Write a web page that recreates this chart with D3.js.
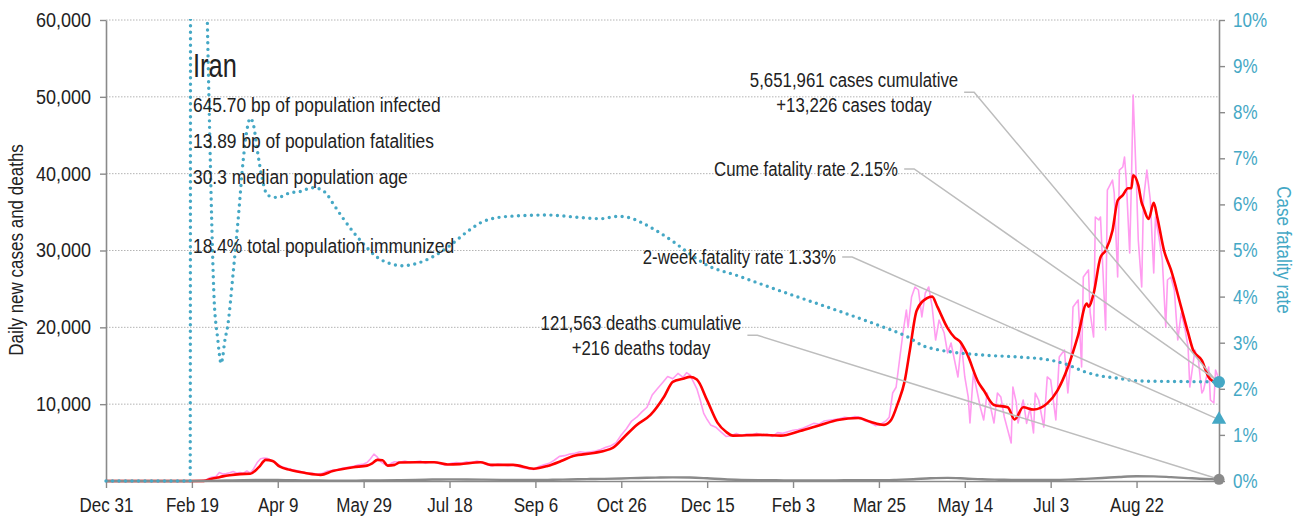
<!DOCTYPE html>
<html>
<head>
<meta charset="utf-8">
<script src="https://cdn.jsdelivr.net/npm/d3@7"></script>
<style>
  body { margin: 0; background: #fff; }
  svg text { font-family: "Liberation Sans", Arial, sans-serif; }
</style>
</head>
<body>
<svg id="chart" width="1297" height="525"></svg>
<script>
// ---- data (days counted from Dec 31, 2019) ----
const START = Date.UTC(2019, 11, 31);
const LAST_DAY = 648;

// 7-day average of new cases
const avgCases = [[0,0],[50,0],[57,20],[61,250],[65,450],[68,600],[72,750],[78,900],[84,950],[89,1800],[93,2750],[97,2600],[101,1900],[107,1450],[116,1050],[125,800],[132,1300],[144,1800],[152,2000],[155,2300],[158,2750],[161,2700],[164,2000],[168,2100],[171,2400],[181,2450],[191,2450],[199,2150],[206,2200],[218,2450],[224,2100],[237,2100],[249,1600],[257,1950],[265,2600],[272,3250],[284,3650],[295,4300],[302,5800],[309,7300],[317,8600],[325,11000],[330,12900],[336,13300],[340,13550],[344,13200],[350,10500],[356,7600],[361,6400],[365,5900],[381,6000],[393,5900],[404,6500],[416,7300],[426,7950],[438,8200],[445,7700],[453,7300],[457,7900],[461,10100],[465,13000],[468,17000],[472,22200],[478,23800],[481,24000],[484,22700],[490,19900],[494,18700],[497,18200],[501,16700],[508,12800],[511,11800],[517,9900],[525,9600],[529,8000],[534,9600],[540,9300],[548,10100],[554,11800],[560,14800],[566,19000],[571,23100],[572,22700],[575,24400],[579,29100],[582,30000],[586,32600],[589,36500],[592,37200],[595,38100],[597,38100],[598,39800],[601,38500],[603,36200],[604,35600],[607,34100],[610,36200],[612,34400],[616,30000],[620,27500],[626,22600],[630,19300],[633,17000],[638,15700],[642,13500],[645,12900],[648,12600]];

// daily new cases
const dailyCases = [[0,0],[50,0],[55,10],[58,120],[60,380],[62,520],[64,590],[66,1100],[68,900],[70,960],[72,1070],[74,1230],[76,1050],[78,1100],[80,1020],[82,1300],[84,1050],[86,1600],[88,2400],[90,2900],[92,3000],[94,2950],[96,2700],[98,2500],[100,2200],[102,1900],[105,1700],[108,1500],[111,1350],[114,1200],[117,1050],[120,1000],[123,900],[126,1000],[129,1300],[132,1400],[135,1500],[138,1700],[141,1800],[144,1900],[147,2100],[150,2200],[152,2400],[154,2900],[156,3500],[158,3100],[160,2500],[162,2200],[164,2000],[166,2300],[168,2500],[171,2450],[174,2600],[177,2400],[180,2500],[183,2600],[186,2300],[189,2500],[192,2400],[195,2200],[198,2100],[201,2300],[204,2400],[207,2300],[210,2500],[213,2400],[216,2600],[219,2450],[222,2100],[225,1950],[228,2200],[231,2100],[234,2000],[237,2100],[240,1900],[243,1700],[246,1600],[249,1500],[252,1900],[255,2100],[258,2300],[261,2700],[264,3200],[267,3300],[270,3500],[273,3600],[276,3800],[279,3700],[282,3800],[285,3900],[288,4100],[291,4400],[294,4600],[297,5000],[300,6000],[303,6800],[306,7800],[309,8300],[312,9000],[315,9600],[318,11200],[321,12000],[324,12800],[327,13600],[330,13300],[333,14000],[336,13500],[338,14100],[340,13800],[342,12900],[344,12000],[346,10500],[348,8800],[350,8000],[352,7300],[355,7000],[358,6400],[361,5800],[364,5900],[367,6200],[370,5900],[373,6100],[376,6000],[379,6200],[382,5900],[385,6100],[388,5800],[391,6300],[394,6200],[397,6400],[400,6600],[403,6700],[406,6900],[409,7200],[412,7500],[415,7400],[418,7800],[421,7900],[424,8000],[427,8100],[430,8300],[433,8200],[436,8400],[439,8300],[442,7800],[445,7600],[448,7200],[451,7400],[454,7800],[456,8300],[458,11450],[460,12200],[462,15750],[464,19260],[466,22260],[467,20000],[469,23950],[471,25250],[473,24860],[475,21350],[477,24470],[479,25250],[481,22650],[483,18350],[485,20950],[488,19260],[490,16660],[492,17960],[494,15750],[496,13540],[498,17960],[500,13540],[502,10930],[503,7550],[505,14050],[507,11840],[509,9630],[511,7940],[513,11450],[515,9630],[517,7550],[519,11450],[521,10930],[523,8330],[525,6640],[527,4950],[528,12230],[530,10200],[531,7550],[534,10540],[536,7500],[538,9500],[540,6250],[541,11450],[543,10540],[546,7030],[548,13540],[550,13150],[553,7940],[555,16140],[558,17050],[560,11450],[562,16660],[563,22650],[566,23560],[568,14840],[569,26550],[572,27460],[573,21870],[575,18740],[576,34360],[578,33970],[579,34360],[582,19650],[583,37870],[586,39170],[587,37480],[589,26550],[590,40470],[592,40870],[593,42170],[594,39170],[596,29670],[597,38780],[598,50240],[600,38260],[601,31370],[603,25250],[604,36570],[606,40470],[608,36570],[610,27070],[611,34360],[613,31760],[615,28760],[617,20040],[618,26160],[620,26550],[622,24860],[624,18350],[626,21870],[628,20040],[630,17440],[631,12230],[634,17050],[636,15750],[638,11450],[639,11840],[642,14840],[643,10540],[645,10150],[646,14450],[648,13226]];

// daily deaths
const dailyDeaths = [[0,0],[50,0],[60,20],[70,60],[80,120],[90,140],[100,130],[110,90],[120,70],[130,50],[140,45],[150,60],[160,80],[170,110],[180,140],[190,190],[200,210],[210,200],[220,180],[230,150],[240,130],[250,130],[260,160],[270,200],[280,250],[290,280],[300,330],[310,400],[320,440],[330,470],[340,450],[350,350],[360,220],[370,150],[380,110],[390,90],[400,80],[410,80],[420,85],[430,90],[440,95],[450,90],[460,140],[470,230],[480,350],[490,410],[500,330],[510,220],[520,170],[530,130],[540,130],[550,140],[560,180],[570,280],[580,400],[590,530],[600,620],[610,600],[620,500],[630,380],[640,270],[648,216]];

// case fatality rate, percent
const fatalityRate = [[0,0],[49,0],[50,100],[53,40],[56,18],[59,10],[60,8.2],[61,6.5],[62,5.0],[63,3.9],[64,3.4],[65,3.1],[66,2.75],[67,2.55],[68,2.7],[69,3.0],[71,3.4],[74,4.5],[77,5.7],[80,7.0],[82,7.6],[84,7.87],[86,7.7],[88,7.2],[91,6.55],[94,6.2],[100,6.15],[107,6.25],[113,6.28],[120,6.36],[125,6.33],[129,6.2],[132,6.03],[138,5.7],[144,5.4],[150,5.14],[158,4.85],[165,4.72],[173,4.67],[181,4.72],[190,4.86],[200,5.1],[210,5.4],[218,5.6],[229,5.72],[245,5.76],[256,5.77],[275,5.72],[288,5.69],[298,5.74],[305,5.71],[311,5.62],[320,5.44],[330,5.2],[339,4.95],[349,4.7],[368,4.45],[389,4.17],[410,3.9],[431,3.63],[451,3.36],[467,3.12],[476,2.93],[484,2.85],[492,2.8],[511,2.73],[531,2.69],[550,2.62],[560,2.52],[569,2.38],[579,2.28],[589,2.23],[601,2.17],[620,2.16],[648,2.15]];

// summary figures
const cumCases = 5651961;
const todayCases = 13226;
const cumDeaths = 121563;
const todayDeaths = 216;
const twoWeekRate = 1.33;
const countryName = "Iran";
const infectedBp = 645.70;
const fatalitiesBp = 13.89;
const medianAge = 30.3;
const immunizedPct = 18.4;

// axis ticks
const caseTicks = [10000, 20000, 30000, 40000, 50000, 60000];
const rateTicks = [0, 1, 2, 3, 4, 5, 6, 7, 8, 9, 10];
const dateTickDays = [0, 50, 100, 150, 200, 250, 300, 350, 400, 450, 500, 550, 600];

// ---- chart ----
const TEAL = "#45a8c5";
const INK = "#222";
const NARROW = 0.85;   // horizontal squeeze for a narrow typeface look
const dayToDate = d => new Date(START + d * 864e5);

// squeeze text horizontally (keeps its anchor)
function condense(sel, k = NARROW) {
  sel.each(function () {
    const len = this.getComputedTextLength();
    this.setAttribute("textLength", (len * k).toFixed(2));
    this.setAttribute("lengthAdjust", "spacingAndGlyphs");
  });
}

const svg = d3.select("#chart");
const plotL = 106, plotR = 1219, plotT = 20, plotB = 481;

const x = d3.scaleUtc().domain([dayToDate(0), dayToDate(LAST_DAY)]).range([plotL, plotR]);
const y = d3.scaleLinear().domain([0, 60000]).range([plotB, plotT]);
const y2 = d3.scaleLinear().domain([0, 10]).range([plotB, plotT]);

svg.append("defs").append("clipPath").attr("id", "plot-clip")
  .append("rect").attr("x", plotL - 2).attr("y", plotT - 1).attr("width", plotR - plotL + 4).attr("height", plotB - plotT + 10);

// dotted grid
svg.append("g").selectAll("line").data(caseTicks).join("line")
  .attr("x1", plotL).attr("x2", plotR)
  .attr("y1", d => y(d)).attr("y2", d => y(d))
  .attr("stroke", "#b4b4b4").attr("stroke-width", 1).attr("stroke-dasharray", "1.5,1.5");

// axes
const styleAxis = g => {
  g.select(".domain").attr("stroke", "#8a8a8a").attr("stroke-width", 1.6);
  g.selectAll(".tick line").attr("stroke", "#8a8a8a").attr("stroke-width", 1.4);
  g.selectAll("text").attr("font-size", 20).attr("fill", INK).attr("font-family", null);
};

svg.append("g").attr("transform", `translate(${plotL},0)`)
  .call(d3.axisLeft(y).tickValues(caseTicks).tickFormat(d3.format(",")).tickSize(6).tickSizeOuter(0).tickPadding(9))
  .call(styleAxis)
  .call(g => condense(g.selectAll("text"), 0.9));

svg.append("g").attr("transform", `translate(0,${plotB})`)
  .call(d3.axisBottom(x).tickValues(dateTickDays.map(dayToDate)).tickFormat(d3.utcFormat("%b %-d")).tickSize(7).tickSizeOuter(0).tickPadding(10))
  .call(styleAxis)
  .call(g => condense(g.selectAll("text")));

svg.append("g").attr("transform", `translate(${plotR},0)`)
  .call(d3.axisRight(y2).tickValues(rateTicks).tickFormat(d => d + "%").tickSize(6).tickSizeOuter(0).tickPadding(8))
  .call(styleAxis)
  .call(g => g.selectAll("text").attr("fill", TEAL))
  .call(g => condense(g.selectAll("text")));

// axis titles
svg.append("text").attr("transform", "translate(23,250) rotate(-90)")
  .attr("text-anchor", "middle").attr("font-size", 20).attr("fill", INK)
  .text("Daily new cases and deaths").call(condense);
svg.append("text").attr("transform", "translate(1277,250) rotate(90)")
  .attr("text-anchor", "middle").attr("font-size", 20).attr("fill", TEAL)
  .text("Case fatality rate").call(condense);

// series
const plot = svg.append("g").attr("clip-path", "url(#plot-clip)");
const xOf = d => x(dayToDate(d[0]));

plot.append("path").datum(dailyCases)
  .attr("d", d3.line().x(xOf).y(d => y(d[1])))
  .attr("fill", "none").attr("stroke", "#ff9cf0").attr("stroke-width", 1.6).attr("stroke-linejoin", "round");
plot.append("path").datum(avgCases)
  .attr("d", d3.line().x(xOf).y(d => y(d[1])).curve(d3.curveMonotoneX))
  .attr("fill", "none").attr("stroke", "#ff0000").attr("stroke-width", 2.6).attr("stroke-linejoin", "round");
plot.append("path").datum(dailyDeaths)
  .attr("d", d3.line().x(xOf).y(d => y(d[1])).curve(d3.curveMonotoneX))
  .attr("fill", "none").attr("stroke", "#8a8a8a").attr("stroke-width", 2.4);
plot.append("path").datum(fatalityRate)
  .attr("d", d3.line().x(xOf).y(d => y2(d[1])).curve(d3.curveMonotoneX))
  .attr("fill", "none").attr("stroke", TEAL).attr("stroke-width", 3.4)
  .attr("stroke-linecap", "round").attr("stroke-dasharray", "0,6.5");

// country summary block
const info = svg.append("g").attr("fill", INK);
info.append("text").attr("x", 193).attr("y", 77).attr("font-size", 33).text(countryName).call(condense, 0.77);
const fmt2 = d3.format(".2f"), fmt1 = d3.format(".1f");
[[`${fmt2(infectedBp)} bp of population infected`, 112],
 [`${fmt2(fatalitiesBp)} bp of population fatalities`, 148],
 [`${fmt1(medianAge)} median population age`, 184],
 [`${fmt1(immunizedPct)}% total population immunized`, 253]]
  .forEach(([t, yy]) => info.append("text").attr("x", 193).attr("y", yy).attr("font-size", 20).text(t).call(condense, 0.87));

// end-of-series values
const xEnd = x(dayToDate(LAST_DAY));
const lastRate = fatalityRate[fatalityRate.length - 1][1];
const lastAvg = avgCases[avgCases.length - 1][1];
const lastDeaths = dailyDeaths[dailyDeaths.length - 1][1];

// annotations with leader lines
const comma = d3.format(",");
const annots = [
  { lines: [`${comma(cumCases)} cases cumulative`, `+${comma(todayCases)} cases today`], x: 854, y: 87, anchor: "middle", target: [xEnd, y(lastAvg)] },
  { lines: [`Cume fatality rate ${d3.format(".2f")(cumDeaths / cumCases * 100)}%`], x: 898, y: 176, anchor: "end", target: [xEnd, y2(lastRate)] },
  { lines: [`2-week fatality rate ${d3.format(".2f")(twoWeekRate)}%`], x: 836, y: 264, anchor: "end", target: [xEnd, y2(twoWeekRate)] },
  { lines: [`${comma(cumDeaths)} deaths cumulative`, `+${comma(todayDeaths)} deaths today`], x: 641, y: 330, anchor: "middle", target: [xEnd, y(lastDeaths)] }
];
const leaderG = svg.append("g");
const annotG = svg.append("g");
annots.forEach(a => {
  const t = annotG.append("text").attr("text-anchor", a.anchor).attr("font-size", 20).attr("fill", INK);
  a.lines.forEach((s, i) => t.append("tspan").attr("x", a.x).attr("y", a.y + i * 24.5).text(s).call(condense, 0.84));
  const bb = t.node().getBBox();
  const sx = bb.x + bb.width + 6, sy = bb.y + bb.height / 2;
  leaderG.append("polyline")
    .attr("points", [[sx, sy], [sx + 10, sy], a.target].map(p => p.join(",")).join(" "))
    .attr("fill", "none").attr("stroke", "#bdbdbd").attr("stroke-width", 1.5);
});

// end-of-series markers
const markers = svg.append("g");
markers.append("circle").attr("cx", xEnd).attr("cy", y2(lastRate)).attr("r", 6).attr("fill", TEAL);
markers.append("path").attr("d", d3.symbol(d3.symbolTriangle, 90)())
  .attr("transform", `translate(${xEnd},${y2(twoWeekRate)})`).attr("fill", TEAL);
markers.append("circle").attr("cx", xEnd).attr("cy", y(lastDeaths)).attr("r", 5.5).attr("fill", "#8a8a8a");
</script>
</body>
</html>
